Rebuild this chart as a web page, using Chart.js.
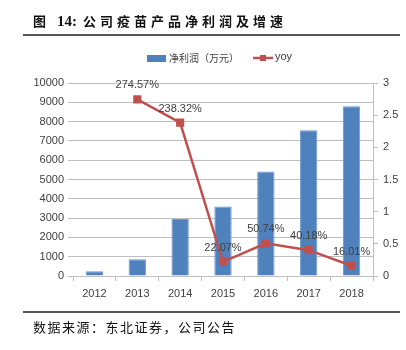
<!DOCTYPE html>
<html>
<head>
<meta charset="utf-8">
<script src="https://cdn.jsdelivr.net/npm/chart.js@4"></script>
<style>
  body { margin: 0; background: #fff; }
  #wrap { position: relative; width: 406px; height: 350px; }
  #chart { position: absolute; left: 0; top: 0; }
  .title {
    position: absolute; left: 33px; top: 11px;
    font: bold 13px "Noto Sans CJK SC", sans-serif; letter-spacing: 4px; color: #111;
  }
  .title .num { letter-spacing: 0; font-family: "Liberation Serif", serif; font-size: 15px; margin-right: 6px; }
  .rule { position: absolute; left: 23px; width: 377px; height: 2px; background: #555; }
  .source {
    position: absolute; left: 33px; top: 317px;
    font: 13px "Noto Sans CJK SC", sans-serif; letter-spacing: 1.5px; color: #111;
  }
</style>
</head>
<body>
<div id="wrap">
  <canvas id="chart" width="406" height="350"></canvas>
  <div class="title">图 <span class="num">14:</span>公司疫苗产品净利润及增速</div>
  <div class="rule" style="top:34px"></div>
  <div class="rule" style="top:311px"></div>
  <div class="source">数据来源：东北证券，公司公告</div>
</div>
<script>
// data
const years = ["2012", "2013", "2014", "2015", "2016", "2017", "2018"];
const netProfit = [250, 870, 2950, 3600, 5420, 7550, 8800];   // 万元
const yoy = [null, 2.7457, 2.3832, 0.2207, 0.5074, 0.4018, 0.1601];
const profitLabel = "净利润（万元）";
const yoyLabel = "yoy";

const BLUE = "#4f81bd";
const RED = "#c0504d";
const GRID = "#bfbfbf";
const TEXT = "#404040";
const NUM_FONT = { family: "'Liberation Sans', sans-serif", size: 11 };

// percent labels above the yoy points
const pointLabels = {
  id: "pointLabels",
  afterDatasetsDraw(chart) {
    const ctx = chart.ctx;
    const meta = chart.getDatasetMeta(1);
    ctx.save();
    ctx.font = "11px " + NUM_FONT.family;
    ctx.fillStyle = TEXT;
    ctx.textAlign = "center";
    ctx.textBaseline = "middle";
    meta.data.forEach((pt, i) => {
      if (yoy[i] == null) return;
      ctx.fillText((yoy[i] * 100).toFixed(2) + "%", pt.x, pt.y - 14);
    });
    ctx.restore();
  }
};

// legend drawn by hand so it sits where the original one does
const manualLegend = {
  id: "manualLegend",
  afterDraw(chart) {
    const ctx = chart.ctx;
    ctx.save();
    ctx.fillStyle = BLUE;
    ctx.fillRect(147, 55, 19, 7);
    ctx.fillStyle = TEXT;
    ctx.textBaseline = "middle";
    ctx.font = "10px 'Noto Sans CJK SC', sans-serif";
    ctx.fillText(profitLabel, 169, 58);

    ctx.strokeStyle = RED;
    ctx.lineWidth = 2.5;
    ctx.beginPath();
    ctx.moveTo(253, 58);
    ctx.lineTo(273, 58);
    ctx.stroke();
    ctx.fillStyle = RED;
    ctx.fillRect(260, 55, 6, 6);
    ctx.fillStyle = TEXT;
    ctx.font = "11px " + NUM_FONT.family;
    ctx.fillText(yoyLabel, 275, 57);
    ctx.restore();
  }
};

new Chart(document.getElementById("chart"), {
  data: {
    labels: years,
    datasets: [
      {
        type: "bar",
        label: profitLabel,
        data: netProfit,
        backgroundColor: BLUE,
        borderColor: "#6e98cb",
        borderWidth: 1,
        categoryPercentage: 0.45,
        barPercentage: 0.9,
        yAxisID: "y",
        order: 1
      },
      {
        type: "line",
        label: yoyLabel,
        data: yoy,
        borderColor: RED,
        backgroundColor: RED,
        borderWidth: 2.5,
        pointStyle: "rect",
        pointRadius: 4,
        pointBackgroundColor: RED,
        pointBorderColor: RED,
        yAxisID: "y1",
        order: 0
      }
    ]
  },
  options: {
    responsive: false,
    animation: false,
    layout: { padding: { top: 83, left: 0, right: 0, bottom: 0 } },
    plugins: {
      legend: { display: false },
      tooltip: { enabled: false }
    },
    scales: {
      x: {
        offset: true,
        grid: { offset: true, drawOnChartArea: false, color: GRID, tickLength: 5 },
        border: { display: true, color: GRID },
        ticks: { color: TEXT, font: NUM_FONT, padding: 6, maxRotation: 0 },
        afterFit: (s) => { s.height = 74; }
      },
      y: {
        position: "left",
        min: 0,
        max: 10000,
        ticks: { stepSize: 1000, color: TEXT, font: NUM_FONT, padding: 4, callback: (v) => String(v) },
        grid: { color: GRID, tickLength: 5 },
        border: { display: false },
        afterFit: (s) => { s.width = 73; }
      },
      y1: {
        position: "right",
        min: 0,
        max: 3,
        ticks: { stepSize: 0.5, color: TEXT, font: NUM_FONT, padding: 5, callback: (v) => String(v) },
        grid: { drawOnChartArea: false, color: GRID, tickLength: 5 },
        border: { display: true, color: GRID },
        afterFit: (s) => { s.width = 33; }
      }
    }
  },
  plugins: [pointLabels, manualLegend]
});
</script>
</body>
</html>
